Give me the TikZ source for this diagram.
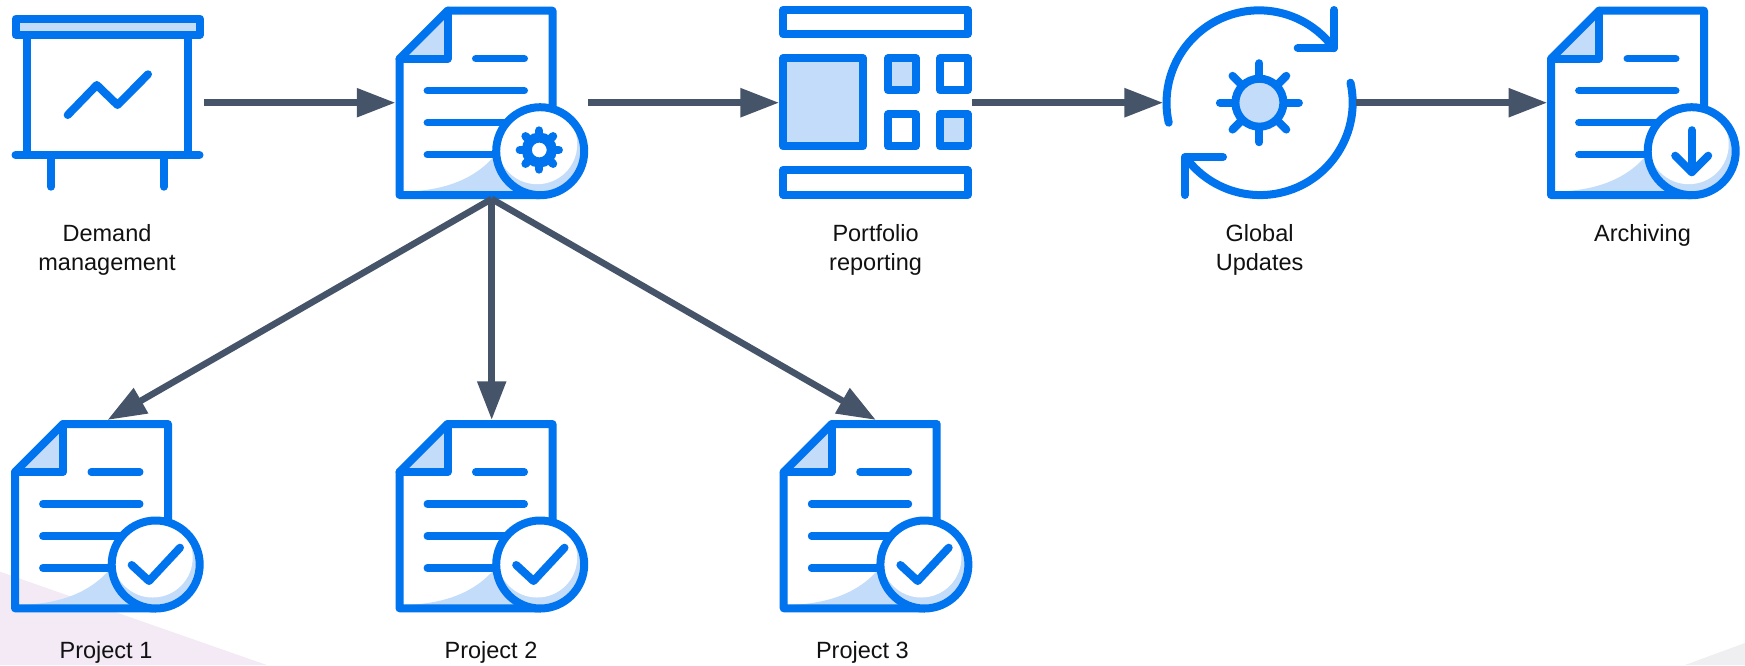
\documentclass[tikz,border=0pt]{standalone}
\usepackage{fontspec}
\setmainfont{Liberation Sans}
\usetikzlibrary{arrows.meta}
\definecolor{iconblue}{RGB}{0,115,238}
\definecolor{iconlight}{RGB}{194,220,250}
\definecolor{flowgray}{RGB}{70,84,106}
\definecolor{bgpink}{RGB}{243,234,246}
\definecolor{bggray}{RGB}{239,239,241}
\definecolor{labelink}{RGB}{17,17,17}
\tikzset{
  iconline/.style={draw=iconblue,line width=8pt,line join=round,line cap=round},
  thinline/.style={draw=iconblue,line width=7.4pt,line join=round,line cap=round},
  lightfill/.style={fill=iconlight},
  iconbox/.style={rectangle,inner sep=0pt,outer sep=0pt,minimum width=#1},
  flow/.style={draw=flowgray,line width=6.5pt,-{Triangle[length=38.7pt,width=27.7pt]}},
  lbl/.style={anchor=base,text=labelink,font=\fontsize{23.5}{28.3}\selectfont,inner sep=0pt,align=center}
}
% doc icon: #1 x0, #2 y0, #3 badge content drawn at circle centre
\newcommand{\docicon}[3]{%
\begin{scope}[shift={(#1,#2)}]
  \fill[iconlight] (8,185) .. controls (50,184) and (80,172) .. (100,148) -- (125,189) -- (8,189) -- cycle;
  \fill[iconlight] (52,3.5) -- (3.5,52) -- (52,52) -- cycle;
  \draw[iconline] (157,103) -- (157,4) -- (52,4) -- (4,52) -- (4,188.3) -- (144.7,188.3);
  \draw[iconline] (4,52) -- (52,52) -- (52,4);
  \draw[thinline] (80.2,52) -- (128.8,52);
  \draw[thinline] (31.8,84) -- (128.8,84);
  \draw[thinline] (31.8,116) -- (115,116);
  \draw[thinline] (31.8,148) -- (105,148);
  \fill[iconlight] (144.7,144.5) circle[radius=42];
  \begin{scope}
    \clip (144.7,144.5) circle[radius=42];
    \fill[white] (141.7,137.5) circle[radius=40];
  \end{scope}
  \draw[iconline] (144.7,144.5) circle[radius=44];
  \begin{scope}[shift={(144.7,144.5)}]
    #3
  \end{scope}
\end{scope}}
\newcommand{\checkbadge}{\draw[iconline] (-24,0.5) -- (-6.7,16.5) -- (24.3,-16.8);}
\begin{document}
\begin{tikzpicture}[x=1pt,y=-1pt]
\useasboundingbox (0,0) rectangle (1745,665);
\fill[white] (0,0) rectangle (1745,665);
\fill[bgpink] (0,571.7) -- (266.7,665) -- (0,665) -- cycle;
\fill[bggray] (1685,665) -- (1745,643) -- (1745,665) -- cycle;

% connector anchors (icon extents)
\node[iconbox=192.5pt,minimum height=176pt] (demand) at (107.7,102.7) {};
\node[iconbox=192.5pt,minimum height=192.5pt] (mgmt) at (491.7,102.7) {};
\node[iconbox=192.5pt,minimum height=192.5pt] (portfolio) at (875.4,102.7) {};
\node[iconbox=192.5pt,minimum height=192.5pt] (global) at (1259.4,102.7) {};
\node[iconbox=192.5pt,minimum height=192.5pt] (archive) at (1643.5,102.7) {};
\node[iconbox=192.5pt,minimum height=192.5pt] (pone) at (107.5,516.2) {};
\node[iconbox=192.5pt,minimum height=192.5pt] (ptwo) at (491.7,516.2) {};
\node[iconbox=192.5pt,minimum height=192.5pt] (pthree) at (875.9,516.2) {};

% presentation board
\fill[iconlight] (15,18.5) rectangle (200.5,35);
\draw[iconline] (15.5,18.7) rectangle (200,34.7);
\draw[iconline] (26.8,35) -- (26.8,155);
\draw[iconline] (188,35) -- (188,155);
\draw[iconline] (15.5,155) -- (199.5,155);
\draw[iconline] (51,155) -- (51,186.7);
\draw[iconline] (163.8,155) -- (163.8,186.7);
\draw[iconline] (67.7,115) -- (96.8,85) -- (117.5,105) -- (148,74.3);

% documents
\docicon{395.5}{6.7}{%
  \begin{scope}[shift={(-0.9,-1.2)}]
  \foreach \a in {0,45,...,315}{\draw[draw=iconblue,line width=8.3pt,line cap=round] (\a:12) -- (\a:19.5);}
  \draw[draw=iconblue,line width=10pt,fill=white] (0,0) circle[radius=12.5];
  \end{scope}
}
\docicon{1547}{6.7}{%
  \draw[iconline] (0,-21) -- (0,21);
  \draw[iconline] (-16.5,4.5) -- (0,21) -- (16.5,4.5);
}
\docicon{11}{420}{\checkbadge}
\docicon{395.5}{420}{\checkbadge}
\docicon{779.7}{420}{\checkbadge}

% portfolio
\draw[iconline] (783.1,10) rectangle (967.6,34.3);
\draw[iconline,lightfill] (783.1,58.3) rectangle (863,146.3);
\draw[iconline,lightfill] (888,58.3) rectangle (915.6,90.3);
\draw[iconline] (940,58.3) rectangle (967.6,90.3);
\draw[iconline] (888,114.3) rectangle (915.6,146.3);
\draw[iconline,lightfill] (940,114.3) rectangle (967.6,146.3);
\draw[iconline] (783.1,170) rectangle (967.6,194.7);

% global updates
\draw[iconline] (1168.7,122.7) arc[start angle=167.6,end angle=323.8,radius=92.5];
\draw[iconline] (1334,10) -- (1334,48) -- (1297.7,48);
\draw[iconline] (1350.5,82.7) arc[start angle=-12.4,end angle=143.5,radius=92.5];
\draw[iconline] (1184.8,195) -- (1184.8,157) -- (1223,157);
\begin{scope}[shift={(1259.4,102.7)}]
  \foreach \a in {0,90,180,270}{\draw[iconline] (\a:24) -- (\a:39.5);}
  \foreach \a in {45,135,225,315}{\draw[iconline] (\a:24) -- (\a:38);}
  \draw[iconline,lightfill] (0,0) circle[radius=24];
\end{scope}

% connectors
\draw[flow] (demand) -- (mgmt);
\draw[flow] (mgmt) -- (portfolio);
\draw[flow] (portfolio) -- (global);
\draw[flow] (global) -- (archive);
\draw[flow] (mgmt.south) -- (pone.north);
\draw[flow] (mgmt.south) -- (ptwo.north);
\draw[flow] (mgmt.south) -- (pthree.north);

% labels
\node[lbl] (tdemand) at (107,270) {Demand\\management};
\node[lbl] (tportfolio) at (875.6,270) {Portfolio\\reporting};
\node[lbl] (tglobal) at (1259.6,270) {Global\\Updates};
\node[lbl] (tarchive) at (1642.5,241.7) {Archiving};
\node[lbl] (tpone) at (106,658) {Project 1};
\node[lbl] (tptwo) at (491,658) {Project 2};
\node[lbl] (tpthree) at (862.4,658) {Project 3};
\end{tikzpicture}
\end{document}
